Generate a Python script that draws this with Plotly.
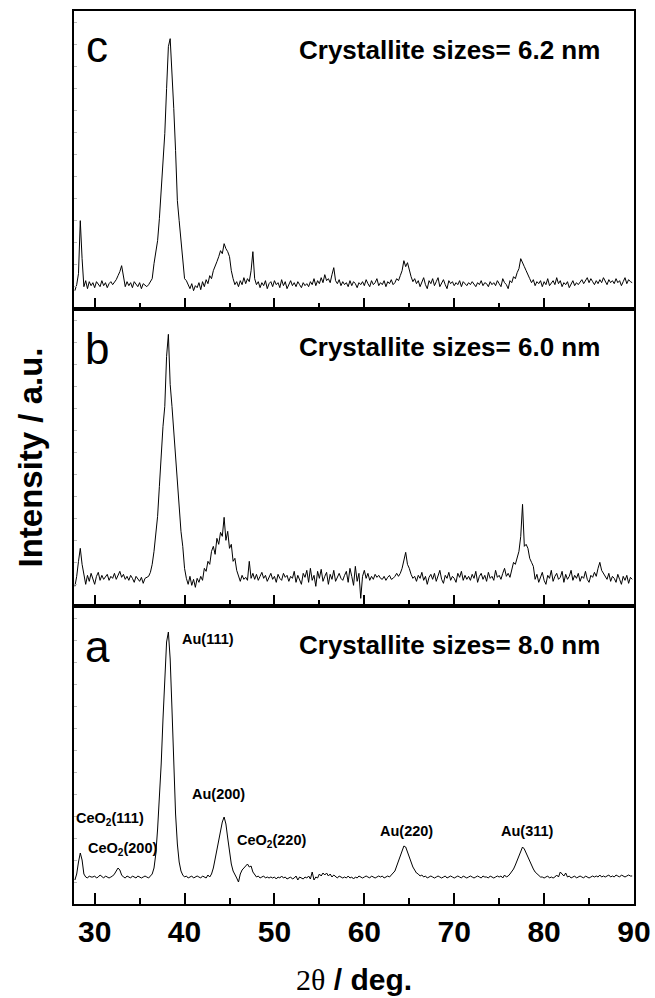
import plotly.graph_objects as go

# ---------------- data (intensity, a.u.) sampled every 0.2 deg from 27.8 deg ----------------
START_2THETA = 27.8
STEP_2THETA = 0.2

intensity_a = [
    24, 30, 42, 51, 44, 30, 27, 26, 28, 27,
    27, 28, 26, 27, 29, 27, 26, 28, 27, 26,
    27, 28, 30, 33, 36, 34, 29, 27, 26, 28,
    27, 26, 28, 27, 26, 28, 27, 26, 27, 28,
    27, 26, 28, 30, 36, 50, 75, 105, 140, 185,
    230, 262, 272, 245, 195, 140, 90, 60, 42, 33,
    29, 27, 28, 26, 27, 28, 26, 27, 28, 27,
    26, 28, 27, 26, 29, 27, 30, 36, 45, 55,
    62, 72, 82, 87, 80, 66, 50, 40, 33, 30,
    26, 22, 30, 34, 36, 38, 40, 37, 38, 32,
    29, 27, 28, 26, 27, 28, 26, 27, 26, 27,
    26, 27, 25, 27, 26, 28, 26, 27, 25, 26,
    27, 25, 26, 28, 24, 27, 26, 25, 27, 26,
    28, 25, 32, 24, 27, 26, 30, 28, 31, 29,
    31, 28, 30, 27, 29, 27, 26, 28, 27, 26,
    27, 26, 28, 26, 27, 25, 27, 26, 28, 27,
    26, 27, 28, 27, 26, 28, 27, 26, 27, 28,
    27, 28, 26, 27, 28, 27, 29, 31, 33, 38,
    43, 49, 54, 58, 57, 52, 46, 41, 37, 34,
    31, 30, 28, 29, 27, 28, 26, 27, 28, 27,
    26, 27, 28, 27, 26, 27, 28, 26, 27, 28,
    27, 26, 27, 28, 27, 26, 28, 27, 26, 27,
    28, 27, 26, 27, 28, 27, 26, 28, 27, 27,
    26, 28, 27, 26, 27, 28, 27, 28, 26, 29,
    27, 28, 30, 32, 35, 39, 44, 49, 54, 57,
    55, 51, 46, 42, 38, 35, 32, 30, 28, 27,
    27, 26, 27, 28, 26, 27, 26, 27, 29, 27,
    32, 30, 28, 31, 27, 28, 26, 27, 28, 26,
    27, 28, 27, 26, 28, 27, 26, 27, 28, 27,
    28, 27, 29, 27, 28, 27, 28, 29, 27, 28,
    27, 29, 28, 27, 29, 28, 27, 28, 29, 28,
    28,
]

intensity_b = [
    20, 30, 45, 58, 42, 30, 22, 31, 25, 33,
    28, 22, 30, 34, 26, 31, 27, 29, 32, 26,
    30, 28, 33, 27, 31, 35, 29, 32, 27, 30,
    26, 31, 28, 24, 30, 27, 25, 29, 23, 28,
    29, 30, 34, 42, 55, 70, 90, 120, 155, 180,
    200, 250, 272, 222, 200, 175, 147, 118, 92, 75,
    60, 38, 28, 22, 30, 21, 27, 19, 28, 24,
    30, 26, 38, 35, 45, 42, 55, 60, 52, 68,
    62, 74, 70, 89, 66, 75, 58, 62, 45, 48,
    36, 30, 25, 31, 27, 29, 26, 45, 28, 33,
    27, 32, 26, 30, 34, 28, 31, 25, 29, 33,
    27, 30, 24, 32, 28, 26, 33, 29, 31, 25,
    30, 28, 35, 24, 31, 27, 22, 33, 29, 36,
    24, 38, 26, 31, 20, 35, 28, 37, 25, 30,
    34, 22, 32, 27, 36, 25, 29, 33, 28, 26,
    31, 35, 24, 38, 30, 21, 40, 25, 33, 8,
    30, 36, 28, 33, 26, 30, 27, 32, 29, 31,
    28, 27, 30, 26, 29, 31, 27, 28, 30, 33,
    30, 33, 38, 45, 54, 42, 38, 32, 28, 30,
    25, 31, 28, 34, 26, 30, 22, 29, 32, 27,
    33, 25, 30, 36, 27, 23, 31, 28, 34, 26,
    30, 28, 24, 33, 29, 35, 26, 31, 27, 30,
    26, 32, 28, 35, 24, 30, 33, 27, 31, 25,
    34, 28, 30, 26, 36, 29, 31, 27, 33, 38,
    30, 33, 29, 38, 44, 42, 49, 55, 70, 102,
    60, 62, 58, 48, 44, 40, 27, 32, 24, 30,
    34, 26, 22, 31, 28, 36, 25, 30, 33, 27,
    29, 35, 24, 32, 27, 30, 36, 26, 31, 28,
    33, 25, 30, 28, 35, 27, 24, 31, 29, 34,
    30, 38, 44, 36, 33, 30, 27, 33, 25, 30,
    28, 24, 32, 27, 22, 30, 26, 31, 23, 29,
    27,
]

intensity_c = [
    18, 24, 35, 88, 50, 22, 28, 20, 27, 23,
    26, 21, 27, 24, 22, 28, 23, 26, 21, 25,
    27, 24, 26, 29, 33, 37, 43, 30, 22, 27,
    23, 26, 21, 27, 24, 22, 26, 20, 25, 23,
    22, 24, 27, 30, 45, 57, 68, 90, 121, 148,
    175, 220, 262, 270, 241, 200, 158, 108, 88, 68,
    42, 30, 28, 24, 20, 25, 18, 23, 21, 26,
    19, 27, 22, 29, 25, 33, 30, 38, 42, 47,
    52, 58, 55, 65, 60, 57, 52, 38, 30, 24,
    27, 22, 28, 24, 31, 25, 30, 27, 38, 57,
    30, 24, 27, 21, 26, 23, 28, 20, 25, 27,
    22, 28, 24, 26, 21, 29, 23, 27, 20, 25,
    28, 23, 26, 22, 27, 24, 21, 26, 23, 25,
    22, 27, 24, 30, 23, 28, 25, 31, 26, 34,
    28, 30, 26, 34, 41, 28, 25, 29, 23, 27,
    24, 26, 22, 28, 23, 27, 25, 21, 26, 24,
    27, 23, 29, 25, 22, 28, 24, 26, 30, 23,
    26, 24, 28, 22, 27, 25, 29, 24, 26, 30,
    28, 33, 38, 48, 42, 46, 38, 32, 27, 30,
    25, 28, 22, 27, 31, 24, 20, 28, 25, 30,
    23, 27, 31, 22, 26, 29, 24, 20, 28, 25,
    27, 23, 26, 24, 28, 22, 27, 25, 23, 26,
    24, 27, 25, 22, 26, 24, 28, 23, 26, 25,
    22, 27, 24, 26, 23, 28, 25, 22, 30, 26,
    24, 20, 28, 26, 32, 30, 36, 40, 50, 45,
    42, 38, 33, 30, 26, 29, 23, 27, 25, 28,
    22, 27, 24, 30, 23, 26, 28, 24, 31, 25,
    28, 22, 26, 24, 27, 21, 25, 28, 23, 26,
    24, 27, 29, 25, 28, 31, 26, 30, 27, 24,
    28, 25, 29, 26, 31, 27, 24, 29, 26, 28,
    25, 30, 26, 28, 23, 27, 31, 25, 29, 27,
    26,
]

panel_letters = ["a", "b", "c"]
crystallite_labels = ["Crystallite sizes= 8.0 nm", "Crystallite sizes= 6.0 nm", "Crystallite sizes= 6.2 nm"]
x_tick_values = [30, 40, 50, 60, 70, 80, 90]
x_tick_labels = ["30", "40", "50", "60", "70", "80", "90"]

peak_labels = ["Au(111)", "Au(200)", "CeO<sub>2</sub>(111)", "CeO<sub>2</sub>(200)",
               "CeO<sub>2</sub>(220)", "Au(220)", "Au(311)"]
peak_label_x = [39.48, 43.81, 31.76, 33.14, 49.64, 64.64, 78.2]
peak_label_y = [265, 110, 85, 55, 63, 73, 73]
peak_label_anchor = ["left", "center", "center", "center", "center", "center", "center"]

# ---------------- figure ----------------
FONT = "Liberation Sans, Arial, sans-serif"
X_RANGE = [27.7, 90.0]
Y_RANGE = [0, 297.67]

def grid(values):
    return [round(START_2THETA + STEP_2THETA * i, 2) for i in range(len(values))]

fig = go.Figure()
series = [intensity_a, intensity_b, intensity_c]
axes_names = [("x", "y"), ("x2", "y2"), ("x3", "y3")]
for vals, (xa, ya) in zip(series, axes_names):
    fig.add_trace(go.Scatter(x=grid(vals), y=vals, mode="lines", xaxis=xa, yaxis=ya,
                             line=dict(color="black", width=1), showlegend=False,
                             hoverinfo="skip"))

domains = [[0, 1/3], [1/3, 2/3], [2/3, 1]]
layout = dict(
    width=655, height=998,
    margin=dict(l=74, r=21, t=11, b=94, autoexpand=False),
    paper_bgcolor="white", plot_bgcolor="white",
    showlegend=False,
)

for i in range(3):
    sfx = "" if i == 0 else str(i + 1)
    layout["xaxis" + sfx] = dict(
        domain=[0, 1], range=X_RANGE, anchor="y" + sfx, automargin=False,
        showline=True, linecolor="black", linewidth=2, mirror=True,
        showgrid=False, zeroline=False,
        ticks="inside", ticklen=11, tickwidth=2, tickcolor="black",
        tickvals=x_tick_values, ticktext=x_tick_labels,
        showticklabels=(i == 0),
        tickfont=dict(family=FONT, size=30, color="black", weight="bold"),
        minor=dict(ticks="inside", ticklen=6, tickwidth=2, tickcolor="black",
                   tickvals=[35, 45, 55, 65, 75, 85]),
        **({} if i == 0 else {"matches": "x"}),
    )
    layout["yaxis" + sfx] = dict(
        domain=domains[i], range=Y_RANGE, anchor="x" + sfx, automargin=False,
        showline=True, linecolor="black", linewidth=2, mirror=True,
        showgrid=False, zeroline=False,
        ticks="inside", ticklen=3, tickwidth=1, tickcolor="#bbbbbb",
        dtick=22, showticklabels=False,
    )

fig.update_layout(**layout)

annotations = []
letter_y = [258, 258, 262]
for i in range(3):
    sfx = "" if i == 0 else str(i + 1)
    annotations.append(dict(
        x=30.26, y=letter_y[i], xref="x" + sfx, yref="y" + sfx,
        text=panel_letters[i], showarrow=False, xanchor="center", yanchor="middle",
        font=dict(family=FONT, size=44, color="black")))
    annotations.append(dict(
        x=86.48, y=259, xref="x" + sfx, yref="y" + sfx,
        text=crystallite_labels[i], showarrow=False, xanchor="right", yanchor="middle",
        font=dict(family=FONT, size=26, color="black", weight="bold")))

for txt, px, py, anc in zip(peak_labels, peak_label_x, peak_label_y, peak_label_anchor):
    annotations.append(dict(
        x=px, y=py, xref="x", yref="y", text=txt, showarrow=False,
        xanchor=anc, yanchor="middle",
        font=dict(family=FONT, size=14.5, color="black", weight="bold")))

annotations.append(dict(
    x=-0.0785, y=0.5, xref="paper", yref="paper", textangle=-90,
    text="Intensity / a.u.", showarrow=False, xanchor="center", yanchor="middle",
    font=dict(family=FONT, size=33, color="black", weight="bold")))
annotations.append(dict(
    x=0.5, y=-0.0851, xref="paper", yref="paper",
    text="<span style='font-family:Liberation Serif, Times New Roman, serif;font-weight:normal'>2θ</span> / deg.",
    showarrow=False, xanchor="center", yanchor="middle",
    font=dict(family=FONT, size=30, color="black", weight="bold")))

fig.update_layout(annotations=annotations)
fig.write_html("out.html", config={"displayModeBar": False},
               post_script="document.body.style.margin='0';document.body.style.overflow='hidden';")
